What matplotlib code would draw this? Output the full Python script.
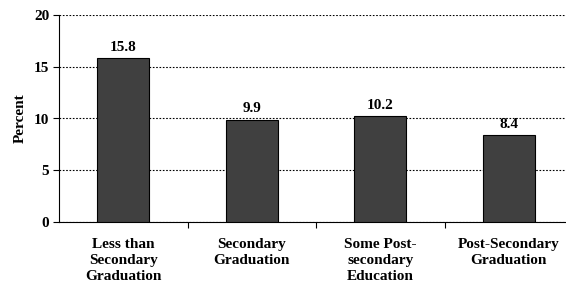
import matplotlib
matplotlib.use("Agg")
import matplotlib.pyplot as plt
import numpy as np

categories = ["Less than\nSecondary\nGraduation", "Secondary\nGraduation",
              "Some Post-\nsecondary\nEducation", "Post-Secondary\nGraduation"]
values = [15.8, 9.9, 10.2, 8.4]
yticks = [0, 5, 10, 15, 20]

plt.rcParams['font.family'] = ['Liberation Serif', 'DejaVu Serif']
plt.rcParams['font.weight'] = 'bold'

fig = plt.figure(figsize=(5.66, 2.86), dpi=100)
ax = fig.add_axes([59/566, 1-222/286, (565-59)/566, (222-15)/286])
x = np.arange(len(categories))
bars = ax.bar(x, values, width=0.405, color='#404040', edgecolor='black', linewidth=0.8, zorder=3)
for xi, v in zip(x, values):
    ax.text(xi, v + 0.4, f"{v}", ha='center', va='bottom', fontsize=11, fontweight='bold')

ax.set_ylim(0, 20)
ax.set_xlim(-0.5, -0.5 + (565-59)/128.5)
ax.set_yticks(yticks)
ax.set_yticklabels([str(t) for t in yticks], fontsize=11, fontweight='bold')
ax.yaxis.grid(True, linestyle=(0, (1.5, 1.5)), color='black', linewidth=0.8, zorder=0)
ax.set_axisbelow(True)
ax.set_ylabel("Percent", fontsize=11, fontweight='bold', labelpad=5)

ax.set_xticks([0.5, 1.5, 2.5])
ax.set_xticklabels([])
ax.tick_params(axis='x', direction='out', length=4, width=0.8)
ax.tick_params(axis='y', direction='out', length=4, width=0.8, pad=3)
for xi, c in zip(x, categories):
    ax.text(xi, -1.55, c, ha='center', va='top', fontsize=11, fontweight='bold',
            linespacing=1.3, transform=ax.transData)

for s in ['top', 'right']:
    ax.spines[s].set_visible(False)
ax.spines['left'].set_linewidth(0.8)
ax.spines['bottom'].set_linewidth(0.8)

fig.savefig("out.png", dpi=100)
